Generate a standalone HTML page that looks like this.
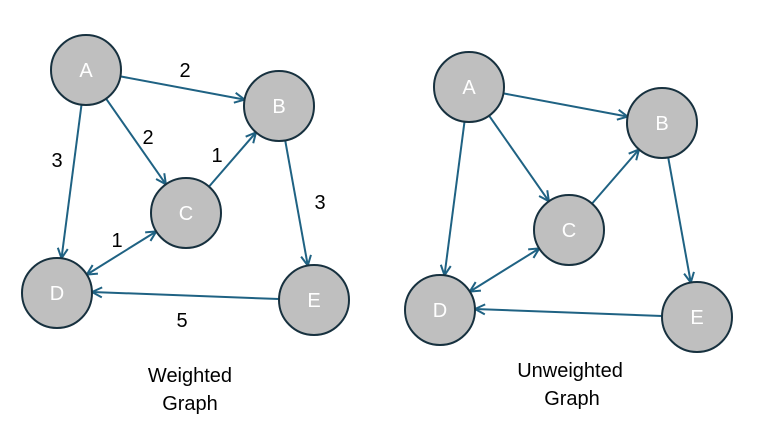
<!DOCTYPE html>
<html><head><meta charset="utf-8"><style>
html,body{margin:0;padding:0;background:#fff;}
svg{display:block;font-family:"Liberation Sans","DejaVu Sans",sans-serif;}
</style></head><body>
<svg width="760" height="448" viewBox="0 0 760 448" xmlns="http://www.w3.org/2000/svg">
<defs>
<marker id="ah" viewBox="0 0 12 12" refX="11" refY="6" markerWidth="12" markerHeight="12" markerUnits="userSpaceOnUse" orient="auto-start-reverse">
<path d="M1,1 L11,6 L1,11" fill="none" stroke="#1f6283" stroke-width="2"/>
</marker>
<g id="graph">
<g stroke="#1f6283" stroke-width="2" fill="none">
<line x1="120.4" y1="76.4" x2="244.6" y2="99.6" marker-end="url(#ah)"/>
<line x1="106.1" y1="98.7" x2="165.9" y2="184.3" marker-end="url(#ah)"/>
<line x1="81.5" y1="104.7" x2="61.5" y2="258.3" marker-end="url(#ah)"/>
<line x1="209" y1="186.6" x2="256" y2="132.4" marker-end="url(#ah)"/>
<line x1="285.2" y1="140.4" x2="307.8" y2="265.6" marker-end="url(#ah)"/>
<line x1="156.3" y1="231.4" x2="86.8" y2="274.6" marker-start="url(#ah)" marker-end="url(#ah)"/>
<line x1="279" y1="299" x2="92" y2="292" marker-end="url(#ah)"/>
</g>
<g fill="#bfbfbf" stroke="#17313f" stroke-width="2">
<circle cx="86" cy="70" r="35"/>
<circle cx="279" cy="106" r="35"/>
<circle cx="186" cy="213" r="35"/>
<circle cx="57" cy="293" r="35"/>
<circle cx="314" cy="300" r="35"/>
</g>
<g fill="#fff" font-size="20" text-anchor="middle">
<text x="86" y="77">A</text>
<text x="279" y="113">B</text>
<text x="186" y="220">C</text>
<text x="57" y="300">D</text>
<text x="314" y="307">E</text>
</g>
</g>
</defs>
<use href="#graph"/>
<use href="#graph" transform="translate(383,17)"/>
<g fill="#000" font-size="20" text-anchor="middle">
<text x="185" y="77">2</text>
<text x="148" y="144">2</text>
<text x="57" y="167">3</text>
<text x="217" y="162">1</text>
<text x="320" y="209">3</text>
<text x="117" y="247">1</text>
<text x="182" y="327">5</text>
<text x="190" y="382">Weighted</text>
<text x="190" y="410">Graph</text>
<text x="570" y="377">Unweighted</text>
<text x="572" y="405">Graph</text>
</g>
</svg>
</body></html>
